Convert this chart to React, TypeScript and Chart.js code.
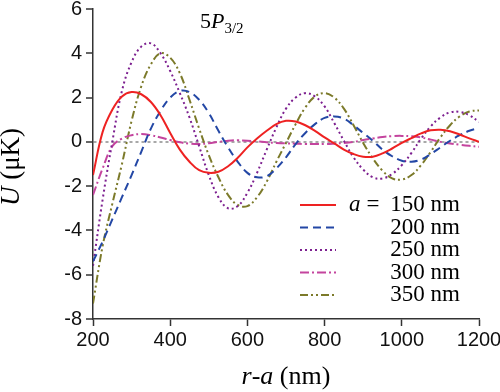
import React, { useEffect, useRef } from "react";
import { Chart, registerables } from "chart.js";

Chart.register(...registerables);

// r - a (nm)
const rValues = [
  200, 225, 250, 275, 300, 325, 350, 375, 400, 425, 450, 475, 500, 525, 550, 575, 600,
  625, 650, 675, 700, 725, 750, 775, 800, 825, 850, 875, 900, 925, 950, 975, 1000,
  1025, 1050, 1075, 1100, 1125, 1150, 1175, 1200,
];

// U (μK) for each a
const u150 = [
  -1.5, 0.45, 1.45, 2.05, 2.25, 2.15, 1.8, 1.2, 0.4, -0.35, -0.9, -1.28, -1.4, -1.35, -1.1, -0.72, -0.25,
  0.15, 0.5, 0.8, 0.95, 0.92, 0.75, 0.5, 0.2, -0.07, -0.35, -0.55, -0.67, -0.67, -0.52, -0.3, -0.05,
  0.17, 0.38, 0.52, 0.55, 0.48, 0.33, 0.16, 0.0,
];
const u200 = [
  -5.4, -4.5, -3.5, -2.5, -1.5, -0.45, 0.6, 1.4, 2.0, 2.3, 2.25, 1.9, 1.3, 0.5, -0.25, -0.9, -1.4,
  -1.6, -1.55, -1.2, -0.7, -0.1, 0.4, 0.8, 1.08, 1.15, 1.05, 0.75, 0.4, 0.05, -0.35, -0.65, -0.85,
  -0.9, -0.8, -0.55, -0.25, 0.05, 0.3, 0.5, 0.63,
];
const u250 = [
  -5.6, -2.6, 0.0, 2.3, 3.6, 4.3, 4.45, 4.0, 3.2, 2.2, 1.1, -0.2, -1.5, -2.5, -3.0, -2.9, -2.3,
  -1.4, -0.35, 0.65, 1.5, 2.0, 2.2, 2.05, 1.6, 0.85, 0.05, -0.7, -1.25, -1.6, -1.65, -1.45, -1.05,
  -0.5, 0.15, 0.7, 1.1, 1.33, 1.35, 1.2, 0.9,
];
const u300 = [
  -2.4, -1.2, -0.2, 0.15, 0.3, 0.35, 0.3, 0.2, 0.08, -0.02, -0.08, -0.1, -0.06, 0.0, 0.05, 0.07, 0.05,
  0.02, -0.02, -0.05, -0.07, -0.08, -0.1, -0.1, -0.1, -0.08, -0.05, 0.0, 0.08, 0.15, 0.22, 0.26, 0.27,
  0.25, 0.2, 0.1, 0.0, -0.07, -0.13, -0.18, -0.22,
];
const u350 = [
  -7.3, -4.7, -2.8, -1.0, 0.95, 2.5, 3.5, 4.0, 3.8, 3.1, 1.9, 0.6, -0.6, -1.6, -2.4, -2.85, -2.9,
  -2.5, -1.8, -0.9, -0.05, 0.8, 1.55, 2.05, 2.2, 2.0, 1.5, 0.75, -0.05, -0.75, -1.3, -1.65, -1.7,
  -1.5, -1.05, -0.45, 0.2, 0.75, 1.15, 1.37, 1.42,
];

const seriesLabels = ["150 nm", "200 nm", "250 nm", "300 nm", "350 nm"];
const seriesValues = [u150, u200, u250, u300, u350];
const seriesColors = ["#ee2222", "#2347a5", "#7d2090", "#c4449e", "#7c7a2a"];
const seriesDashes: number[][] = [[], [8, 5], [2, 3], [9, 3, 2, 3], [8, 3, 2, 3, 2, 3]];

const xMin = 200;
const xMax = 1200;
const xStep = 200;
const yMin = -8;
const yMax = 6;
const yStep = 2;

const SERIF = '"Liberation Serif", "Times New Roman", serif';
const SANS = '"Liberation Sans", Arial, sans-serif';

const overlayPlugin = {
  id: "overlay",
  afterDraw(chart: any) {
    const ctx: CanvasRenderingContext2D = chart.ctx;
    const { left, right, top, bottom } = chart.chartArea;
    ctx.save();
    ctx.fillStyle = "#000";
    ctx.textBaseline = "alphabetic";
    ctx.textAlign = "left";

    // panel title 5P_{3/2}
    let tx = left + 107;
    const ty = top + 19;
    ctx.font = `22px ${SERIF}`;
    ctx.fillText("5", tx, ty);
    tx += ctx.measureText("5").width;
    ctx.font = `italic 22px ${SERIF}`;
    ctx.fillText("P", tx, ty);
    tx += ctx.measureText("P").width;
    ctx.font = `15px ${SERIF}`;
    ctx.fillText("3/2", tx, ty + 5);

    // legend
    const legRight = right - 19;
    const lineX1 = right - 179;
    const lineX2 = right - 143;
    chart.data.datasets.forEach((ds: any, i: number) => {
      const cy = top + 196 + i * 22.5;
      ctx.strokeStyle = ds.borderColor;
      ctx.lineWidth = ds.borderWidth;
      ctx.setLineDash(ds.borderDash || []);
      ctx.beginPath();
      ctx.moveTo(lineX1, cy);
      ctx.lineTo(lineX2, cy);
      ctx.stroke();
      ctx.setLineDash([]);
      ctx.textBaseline = "middle";
      ctx.textAlign = "right";
      ctx.font = `23px ${SERIF}`;
      ctx.fillText(ds.label, legRight, cy);
      if (i === 0) {
        ctx.textAlign = "center";
        ctx.fillText("=", right - 106, cy);
        ctx.textAlign = "left";
        ctx.font = `italic 23px ${SERIF}`;
        ctx.fillText("a", right - 130, cy);
      }
    });

    // x axis title: r-a (nm)
    ctx.textBaseline = "alphabetic";
    ctx.textAlign = "left";
    const parts: [string, string][] = [
      ["r", "italic"],
      ["-", "normal"],
      ["a", "italic"],
      [" (nm)", "normal"],
    ];
    let w = 0;
    parts.forEach(([s, st]) => {
      ctx.font = `${st} 26px ${SERIF}`;
      w += ctx.measureText(s).width;
    });
    let px = (left + right) / 2 - w / 2;
    parts.forEach(([s, st]) => {
      ctx.font = `${st} 26px ${SERIF}`;
      ctx.fillText(s, px, 384);
      px += ctx.measureText(s).width;
    });

    // y axis title: U (μK)
    ctx.save();
    ctx.translate(19, (top + bottom) / 2 + 3);
    ctx.rotate(-Math.PI / 2);
    const yparts: [string, string][] = [
      ["U", "italic"],
      [" (\u03BCK)", "normal"],
    ];
    let yw = 0;
    yparts.forEach(([s, st]) => {
      ctx.font = `${st} 27px ${SERIF}`;
      yw += ctx.measureText(s).width;
    });
    let qx = -yw / 2;
    yparts.forEach(([s, st]) => {
      ctx.font = `${st} 27px ${SERIF}`;
      ctx.fillText(s, qx, 0);
      qx += ctx.measureText(s).width;
    });
    ctx.restore();

    ctx.restore();
  },
};

export default function App() {
  const canvasRef = useRef<HTMLCanvasElement | null>(null);

  useEffect(() => {
    document.body.style.margin = "0";
    const canvas = canvasRef.current;
    if (!canvas) return;

    const datasets = seriesValues.map((vals, i) => ({
      label: seriesLabels[i],
      data: rValues.map((r, j) => ({ x: r, y: vals[j] })),
      borderColor: seriesColors[i],
      backgroundColor: seriesColors[i],
      borderWidth: 2,
      borderDash: seriesDashes[i],
      pointRadius: 0,
      fill: false,
      tension: 0.4,
    }));

    const chart = new Chart(canvas, {
      type: "line",
      data: { datasets },
      options: {
        animation: false,
        responsive: false,
        maintainAspectRatio: false,
        layout: { padding: { left: 0, right: 21, top: 9, bottom: 0 } },
        plugins: {
          legend: { display: false },
          tooltip: { enabled: false },
        },
        scales: {
          x: {
            type: "linear",
            min: xMin,
            max: xMax,
            ticks: {
              stepSize: xStep,
              color: "#111",
              padding: 2,
              maxRotation: 0,
              font: { family: SANS, size: 20 },
              callback: (v: any) => String(v),
            },
            grid: {
              display: true,
              drawOnChartArea: false,
              drawTicks: true,
              tickLength: 7,
              tickColor: "#333",
              tickWidth: 1.5,
            },
            border: { display: true, color: "#333", width: 1.5 },
            afterFit: (s: any) => {
              s.height = 73;
              s.paddingLeft = 0;
              s.paddingRight = 0;
            },
          },
          y: {
            type: "linear",
            min: yMin,
            max: yMax,
            ticks: {
              stepSize: yStep,
              color: "#111",
              padding: 4,
              font: { family: SANS, size: 20 },
              callback: (v: any) => String(v),
            },
            grid: {
              display: true,
              drawOnChartArea: true,
              drawTicks: true,
              tickLength: 7,
              tickColor: "#333",
              tickWidth: 1.5,
              lineWidth: 2,
              color: (c: any) => (c.tick && c.tick.value === 0 ? "#a8a8a8" : "rgba(0,0,0,0)"),
            },
            border: { display: true, color: "#333", width: 1.5, dash: [3, 3] },
            afterFit: (s: any) => {
              s.width = 93;
              s.paddingTop = 0;
              s.paddingBottom = 0;
            },
          },
        },
      },
      plugins: [overlayPlugin],
    });

    return () => {
      chart.destroy();
    };
  }, []);

  return (
    <div style={{ width: 500, height: 392, background: "#fff" }}>
      <canvas ref={canvasRef} width={500} height={392} style={{ display: "block" }} />
    </div>
  );
}
